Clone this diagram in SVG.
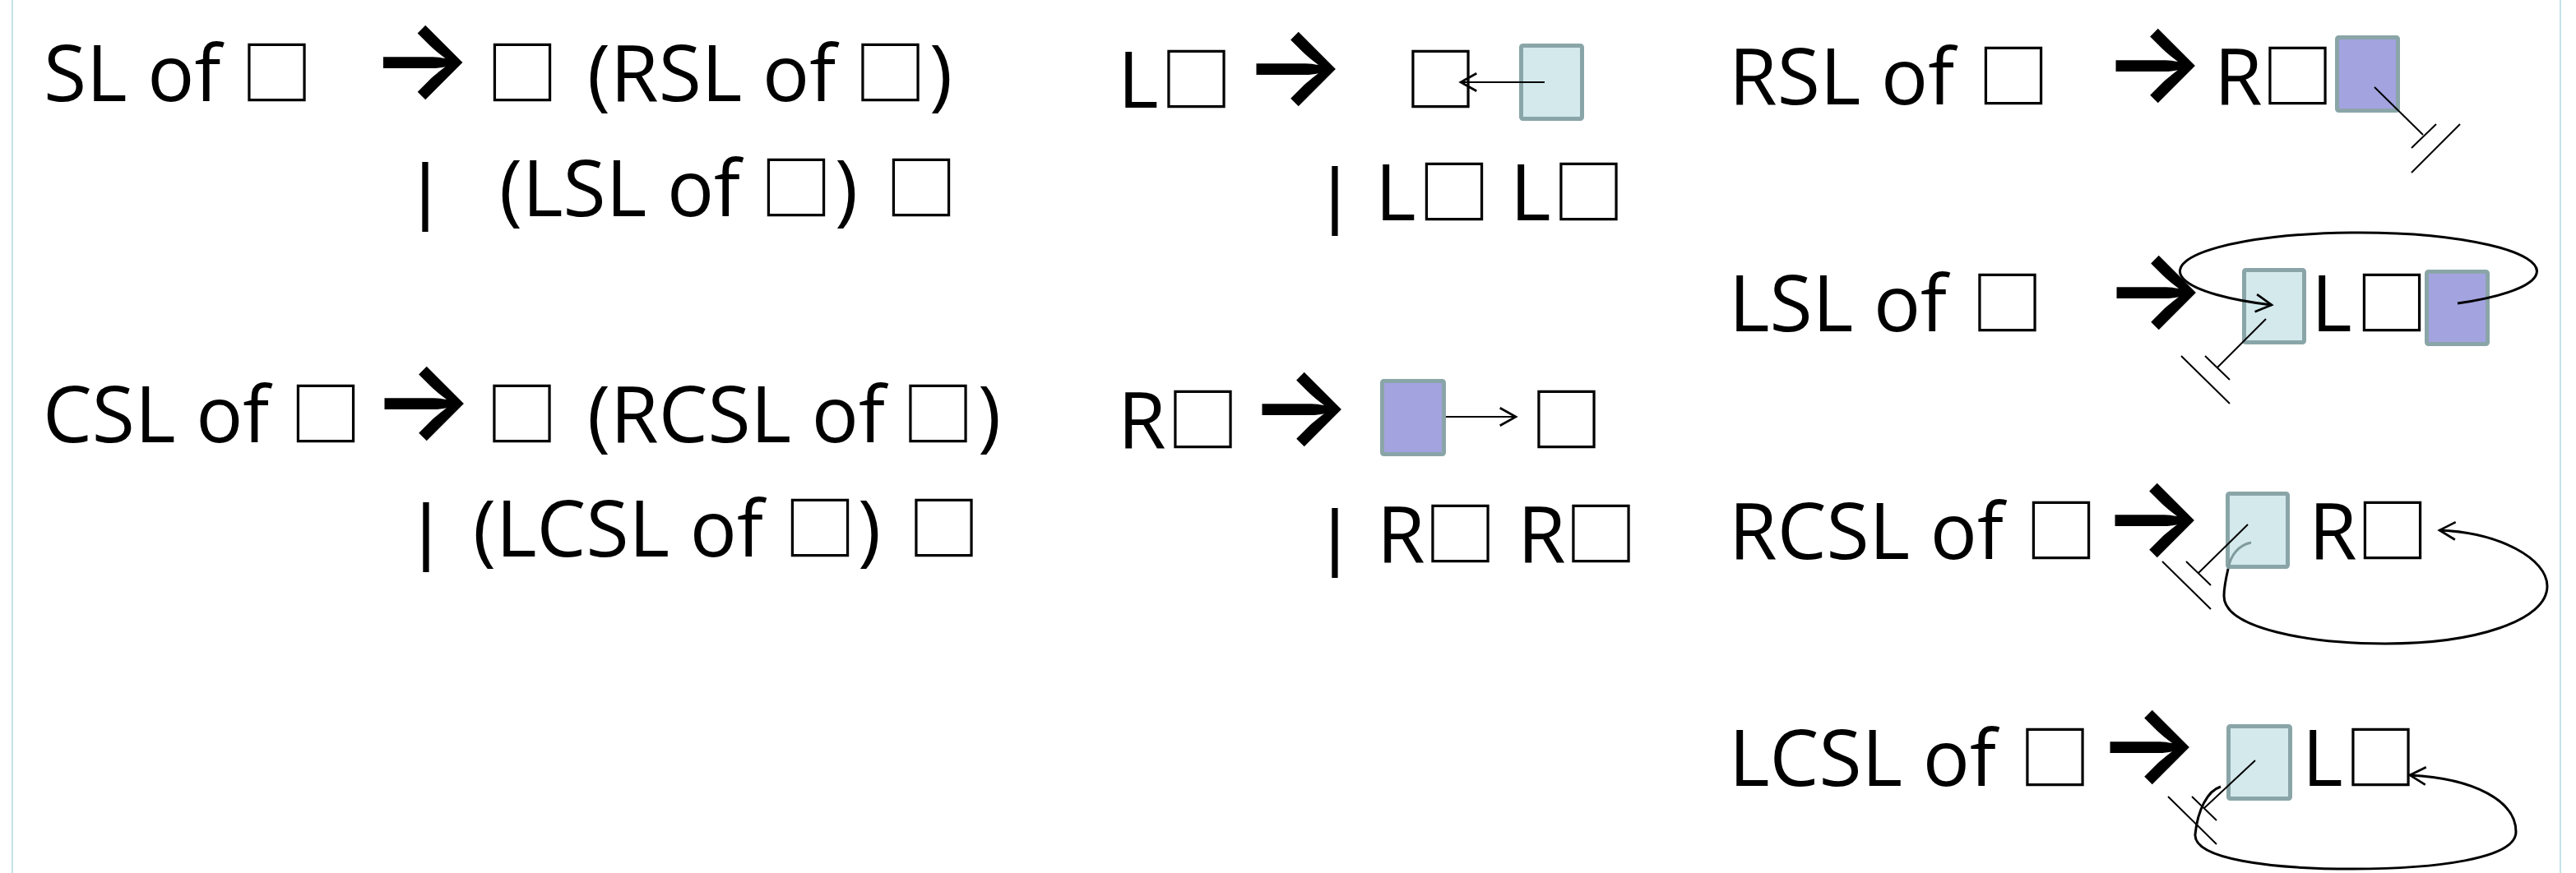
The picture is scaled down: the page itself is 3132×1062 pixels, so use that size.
<svg xmlns="http://www.w3.org/2000/svg" width="3132" height="1062" viewBox="0 0 3132 1062">
  <style>
    .t { font-family: "Open Sans", "Liberation Sans", sans-serif; font-size: 95px; fill: #000; }
    .b { font-family: "Noto Sans CJK SC", "DejaVu Sans", sans-serif; font-size: 88px; fill: #000; text-anchor: middle; }
    .a { font-family: Inter, "DejaVu Sans", sans-serif; font-weight: 600; font-size: 132px; fill: #000; text-anchor: middle; }
    .bar { font-family: "Liberation Sans", sans-serif; font-size: 90px; fill: #000; text-anchor: middle; }
    .cell-blue { fill: #d3e9ec; stroke: #8aa5a8; stroke-width: 5; }
    .cell-purple { fill: #a3a3e0; stroke: #8aa5a8; stroke-width: 5; }
    .ln { fill: none; stroke: #000; stroke-width: 2; }
    .lp { fill: none; stroke: #000; stroke-width: 3; }
    .frame { stroke: #c5e3e8; stroke-width: 2; }
  </style>
  <defs>
    <marker id="open" markerUnits="userSpaceOnUse" markerWidth="30" markerHeight="30" viewBox="-22 -14 26 28" refX="0" refY="0" orient="auto">
      <path d="M -18 -10 L 0 0 L -18 10" fill="none" stroke="#000" stroke-width="2.5"/>
    </marker>
  </defs>

  <rect width="3132" height="1062" fill="#fff"/>
  <line class="frame" x1="15" y1="0" x2="15" y2="1062"/>
  <line class="frame" x1="3113" y1="0" x2="3113" y2="1062"/>

  <!-- SL rule -->
  <g id="rule-sl">
    <text class="t" y="123"><tspan x="53">SL of</tspan><tspan x="714">(RSL of</tspan><tspan x="1130">)</tspan></text>
    <text class="b" y="121"><tspan x="336.5">□</tspan><tspan x="635">□</tspan><tspan x="1082.5">□</tspan></text>
    <text class="a" x="512.5" y="118">→</text>
    <text class="bar" x="517" y="263">|</text>
    <text class="t" y="263"><tspan x="607">(LSL of</tspan><tspan x="1015">)</tspan></text>
    <text class="b" y="261"><tspan x="968">□</tspan><tspan x="1120">□</tspan></text>
  </g>

  <!-- CSL rule -->
  <g id="rule-csl">
    <text class="t" y="538"><tspan x="52">CSL of</tspan><tspan x="714">(RCSL of</tspan><tspan x="1189">)</tspan></text>
    <text class="b" y="536"><tspan x="396">□</tspan><tspan x="634.5">□</tspan><tspan x="1140.5">□</tspan></text>
    <text class="a" x="514" y="533">→</text>
    <text class="bar" x="518" y="677">|</text>
    <text class="t" y="677"><tspan x="575">(LCSL of</tspan><tspan x="1043">)</tspan></text>
    <text class="b" y="675"><tspan x="997">□</tspan><tspan x="1147.5">□</tspan></text>
  </g>

  <!-- L rule -->
  <g id="rule-l">
    <text class="t" x="1359" y="131">L</text>
    <text class="b" y="129"><tspan x="1454.5">□</tspan><tspan x="1751.5">□</tspan></text>
    <text class="a" x="1574" y="126">→</text>
    <rect id="l-cell" class="cell-blue" x="1849.5" y="55.5" width="74" height="89" rx="2"/>
    <text class="bar" x="1623" y="268">|</text>
    <text class="t" y="268"><tspan x="1672">L</tspan><tspan x="1836">L</tspan></text>
    <text class="b" y="266"><tspan x="1768">□</tspan><tspan x="1931.5">□</tspan></text>
  </g>

  <!-- R rule -->
  <g id="rule-r">
    <text class="t" x="1359" y="545">R</text>
    <text class="b" y="543"><tspan x="1462.5">□</tspan><tspan x="1904.5">□</tspan></text>
    <text class="a" x="1581" y="540">→</text>
    <rect id="r-cell" class="cell-purple" x="1680.5" y="463.5" width="75" height="89" rx="2"/>
    <text class="bar" x="1623" y="684">|</text>
    <text class="t" y="684"><tspan x="1674">R</tspan><tspan x="1845">R</tspan></text>
    <text class="b" y="682"><tspan x="1775.5">□</tspan><tspan x="1946.5">□</tspan></text>
  </g>

  <!-- RSL rule -->
  <g id="rule-rsl">
    <text class="t" y="127"><tspan x="2102">RSL of</tspan><tspan x="2692">R</tspan></text>
    <text class="b" y="125"><tspan x="2448">□</tspan><tspan x="2793.5">□</tspan></text>
    <text class="a" x="2619" y="122">→</text>
    <rect id="rsl-cell" class="cell-purple" x="2841.5" y="45.5" width="74" height="89" rx="2"/>
  </g>

  <!-- LSL rule -->
  <g id="rule-lsl">
    <text class="t" y="403"><tspan x="2102">LSL of</tspan><tspan x="2810">L</tspan></text>
    <text class="b" y="401"><tspan x="2440.5">□</tspan><tspan x="2908">□</tspan></text>
    <text class="a" x="2620" y="398">→</text>
    <rect id="lsl-cell-a" class="cell-blue" x="2728.5" y="328.5" width="73" height="88" rx="2"/>
    <rect id="lsl-cell-b" class="cell-purple" x="2950.5" y="330.5" width="74" height="88" rx="2"/>
  </g>

  <!-- RCSL rule -->
  <g id="rule-rcsl">
    <text class="t" y="680"><tspan x="2102">RCSL of</tspan><tspan x="2807">R</tspan></text>
    <text class="b" y="678"><tspan x="2506">□</tspan><tspan x="2909">□</tspan></text>
    <text class="a" x="2618" y="675">→</text>
    <rect id="rcsl-cell" class="cell-blue" x="2708.5" y="600.5" width="73" height="89" rx="2"/>
  </g>

  <!-- LCSL rule -->
  <g id="rule-lcsl">
    <text class="t" y="956"><tspan x="2102">LCSL of</tspan><tspan x="2799">L</tspan></text>
    <text class="b" y="954"><tspan x="2498.5">□</tspan><tspan x="2894.5">□</tspan></text>
    <text class="a" x="2612" y="951">→</text>
    <rect id="lcsl-cell" class="cell-blue" x="2709.5" y="883.5" width="75" height="88" rx="2"/>
  </g>

  <!-- links between cells -->
  <g id="connectors">
    <path class="ln" d="M 1878 100 H 1776" marker-end="url(#open)"/>
    <path class="ln" d="M 1758 507 H 1843" marker-end="url(#open)"/>

    <path class="ln" d="M 2887 106 L 2946 164 M 2932 180 L 2962 151 M 2932 210 L 2991 151"/>

    <path class="lp" d="M 2988 369 A 217 47 0 1 0 2762 371" marker-end="url(#open)"/>
    <path class="ln" d="M 2755 388 L 2696 447 M 2681 433 L 2711 462 M 2652 433 L 2711 491"/>

    <path d="M 2737 660 C 2722 663 2712 675 2709 692" fill="none" stroke="#7f9a9d" stroke-width="3"/>
    <path class="lp" d="M 2709 692 C 2706 705 2704 715 2704 725 C 2704 765 2810 783 2900 783 C 3010 783 3097 755 3097 713 C 3097 680 3040 648 2966 645" marker-end="url(#open)"/>
    <path class="ln" d="M 2733 638 L 2673 697 M 2658 683 L 2688 712 M 2629 683 L 2688 741"/>

    <path class="lp" d="M 2700 957 C 2684 962 2672 985 2669 1015 C 2667 1045 2760 1057 2860 1057 C 2960 1057 3059 1045 3059 1012 C 3059 975 3010 947 2930 943" marker-end="url(#open)"/>
    <path class="ln" d="M 2742 925 L 2680 983 M 2665 969 L 2695 998 M 2636 969 L 2695 1027"/>
  </g>
</svg>
